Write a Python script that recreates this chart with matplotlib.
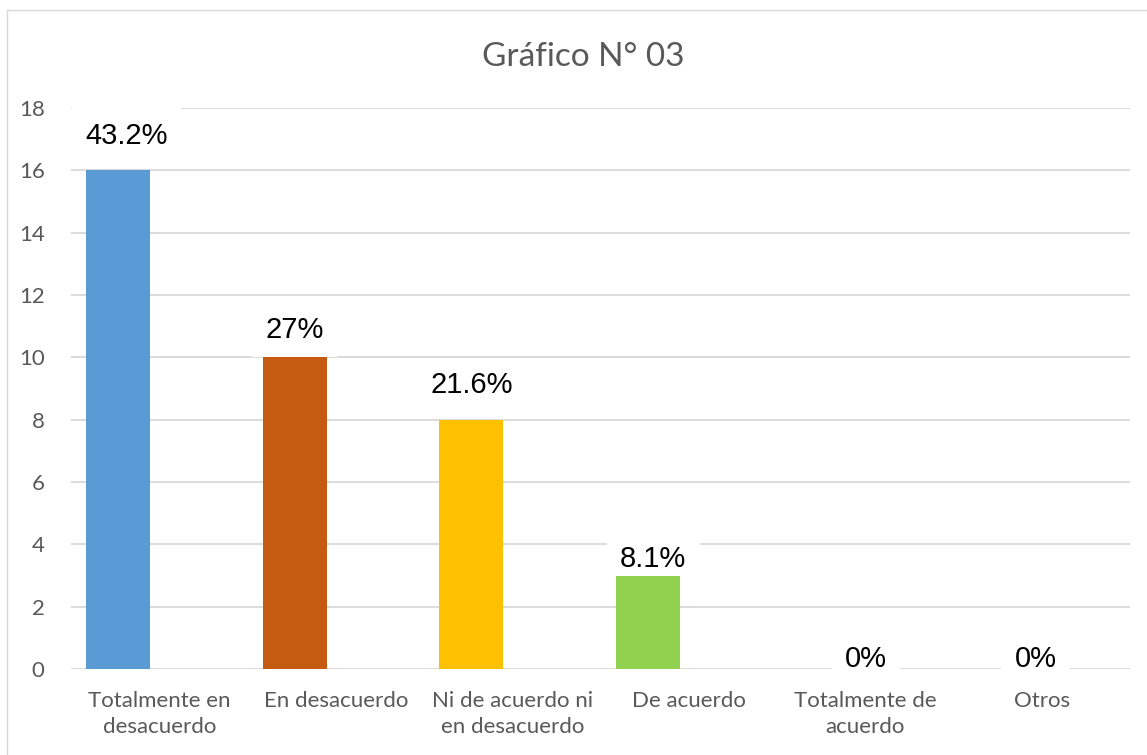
import matplotlib
matplotlib.use("Agg")
import matplotlib.pyplot as plt
from matplotlib.patches import Rectangle

categories = ["Totalmente en\ndesacuerdo", "En desacuerdo", "Ni de acuerdo ni\nen desacuerdo",
              "De acuerdo", "Totalmente de\nacuerdo", "Otros"]
values = [16, 10, 8, 3, 0, 0]
pct_labels = ["43.2%", "27%", "21.6%", "8.1%", "0%", "0%"]
yticks = [0, 2, 4, 6, 8, 10, 12, 14, 16, 18]
title = "Gráfico N° 03"

colors = ["#5B9BD5", "#C55A11", "#FFC000", "#92D050", "#A5A5A5", "#4472C4"]
# label placement (offset in points from bar top)
label_dx = [6, 0, 0, 4, 30, 25]
label_dy = [25, 20, 25, 12, 7, 7]

W, H, DPI = 1147, 755, 100
fig = plt.figure(figsize=(W / DPI, H / DPI), dpi=DPI)
fig.patch.set_facecolor("white")

# chart border
fig.patches.append(Rectangle((7 / W, -0.05), 1.1, 1 - 10 / H + 0.05, transform=fig.transFigure,
                             fill=False, edgecolor="#d9d9d9", linewidth=1.0))

ax = fig.add_axes([71 / W, 1 - 669 / H, (1130 - 71) / W, (669 - 108) / H])
x = list(range(len(categories)))
bar_shift = -0.232
bar_w = 0.363
ax.bar([i + bar_shift for i in x], values, width=bar_w, color=colors, zorder=6)

ax.set_xlim(-0.5, len(categories) - 0.5)
ax.set_ylim(0, 18)
ax.set_yticks(yticks)
ax.set_yticklabels([str(t) for t in yticks], fontsize=16, color="#595959", family="Lato")
ax.set_xticks(x)
ax.set_xticklabels(categories, fontsize=16, color="#595959", family="Lato", linespacing=1.35)
ax.tick_params(axis="both", length=0)
ax.tick_params(axis="y", pad=19)
ax.tick_params(axis="x", pad=16)
for s in ax.spines.values():
    s.set_visible(False)
ax.set_axisbelow(True)
ax.yaxis.grid(True, color="#d9d9d9", linewidth=1.3)

for i, (v, lab) in enumerate(zip(values, pct_labels)):
    ax.annotate(lab, xy=(i + bar_shift, v), xytext=(label_dx[i], label_dy[i]),
                textcoords="offset points", ha="center", va="center",
                fontsize=21, family="Liberation Sans", color="black", zorder=5,
                bbox=dict(boxstyle="square,pad=0.45", facecolor="white", edgecolor="none"),
                annotation_clip=False)

fig.text(583 / W, 1 - 57 / H, title, ha="center", va="center", fontsize=24,
         color="#595959", family="Lato")

fig.savefig("out.png", dpi=DPI)
